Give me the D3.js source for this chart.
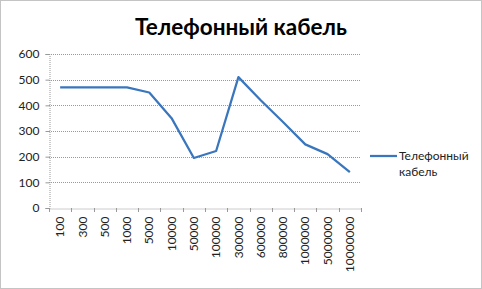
<!DOCTYPE html>
<html>
<head>
<meta charset="utf-8">
<script src="https://cdn.jsdelivr.net/npm/d3@7"></script>
<style>
  body { margin: 0; background: #fff; }
  svg text { font-family: Lato, "Open Sans", sans-serif; }
</style>
</head>
<body>
<svg id="chart"></svg>
<script>
const categories = ["100", "300", "500", "1000", "5000", "10000", "50000", "100000",
  "300000", "600000", "800000", "1000000", "5000000", "10000000"];
const values = [470, 470, 470, 470, 450, 350, 195, 222, 510, 420, 335, 248, 210, 140];
const yTicks = [0, 100, 200, 300, 400, 500, 600];
const seriesName = "Телефонный кабель";

const width = 482, height = 289;
const margin = {left: 49, right: 121, top: 54, bottom: 81};

const svg = d3.select("#chart").attr("width", width).attr("height", height);

// outer frame
svg.append("rect")
  .attr("x", 0.5).attr("y", 0.5)
  .attr("width", width - 1).attr("height", height - 1)
  .attr("fill", "none").attr("stroke", "#888")
  .attr("stroke-dasharray", "1,1");

const x = d3.scaleBand()
  .domain(categories)
  .range([margin.left, width - margin.right]);

const y = d3.scaleLinear()
  .domain([0, 600])
  .range([height - margin.bottom, margin.top]);

// gridlines
svg.append("g")
  .selectAll("line")
  .data(yTicks.filter(d => d > 0))
  .join("line")
  .attr("x1", margin.left).attr("x2", width - margin.right)
  .attr("y1", d => Math.round(y(d)) + 0.5).attr("y2", d => Math.round(y(d)) + 0.5)
  .attr("stroke", "#999").attr("stroke-dasharray", "1,1");

// y axis
const yAxis = svg.append("g")
  .attr("transform", `translate(${margin.left + 0.5},0)`)
  .call(d3.axisLeft(y).tickValues(yTicks).tickSize(4).tickPadding(6));
yAxis.select(".domain").attr("stroke", "#999").attr("stroke-dasharray", "1,1");
yAxis.selectAll(".tick line").attr("stroke", "#999");
yAxis.selectAll("text").attr("font-size", 12).attr("fill", "#222")
  .style("font-family", "Lato, sans-serif");

// x axis
const xAxis = svg.append("g")
  .attr("transform", `translate(0,${Math.round(y(0)) + 0.5})`)
  .call(d3.axisBottom(x).tickSize(0).tickPadding(0));
xAxis.select(".domain").attr("stroke", "#999").attr("stroke-dasharray", "1,1");
xAxis.selectAll(".tick line").remove();
xAxis.selectAll("text")
  .attr("font-size", 12).attr("fill", "#222")
  .attr("transform", "rotate(-90)")
  .attr("x", -8).attr("y", 0).attr("dy", "0.35em")
  .attr("text-anchor", "end")
  .style("font-family", "Lato, sans-serif");

// tick marks at category boundaries
svg.append("g")
  .selectAll("line")
  .data(categories.map((c, i) => i).concat([categories.length]))
  .join("line")
  .attr("x1", i => Math.round(margin.left + i * x.step()) + 0.5)
  .attr("x2", i => Math.round(margin.left + i * x.step()) + 0.5)
  .attr("y1", Math.round(y(0))).attr("y2", Math.round(y(0)) + 4)
  .attr("stroke", "#999");

// line
const line = d3.line()
  .x((d, i) => x(categories[i]) + x.bandwidth() / 2)
  .y(d => y(d));

svg.append("path")
  .datum(values)
  .attr("d", line)
  .attr("fill", "none")
  .attr("stroke", "#3a76bd")
  .attr("stroke-width", 2.25)
  .attr("stroke-linejoin", "round");

// title
svg.append("text")
  .attr("x", 241).attr("y", 35)
  .attr("text-anchor", "middle")
  .attr("font-size", 22.5).attr("font-weight", "bold")
  .attr("fill", "#000")
  .text(seriesName);

// legend
const lg = svg.append("g").attr("transform", "translate(370,156)");
lg.append("line")
  .attr("x1", 0).attr("x2", 27).attr("y1", 0).attr("y2", 0)
  .attr("stroke", "#3a76bd").attr("stroke-width", 2.25);
const words = seriesName.split(" ");
lg.selectAll("text.l")
  .data(words)
  .join("text")
  .attr("x", 29).attr("y", (d, i) => i * 16)
  .attr("dy", "0.35em")
  .attr("font-size", 12).attr("fill", "#222")
  .text(d => d);
</script>
</body>
</html>
